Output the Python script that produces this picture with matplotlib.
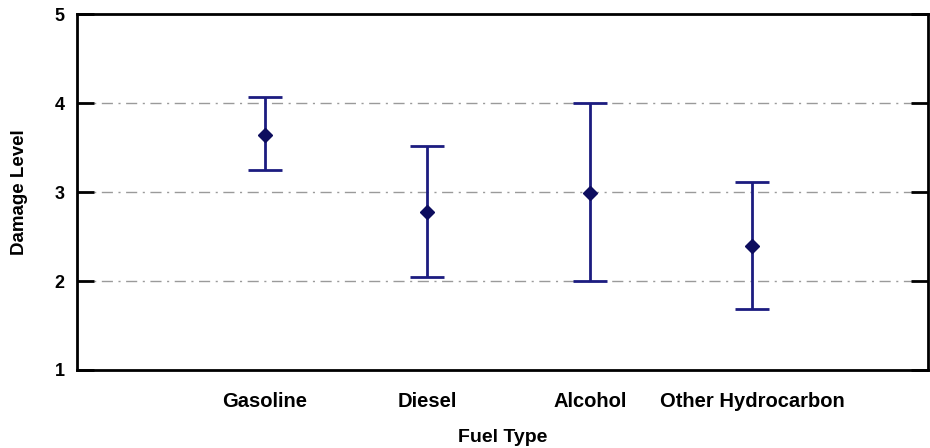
import matplotlib.pyplot as plt
import numpy as np

plt.rcParams['font.family'] = ['Liberation Sans', 'DejaVu Sans']

fuel_types = ['Gasoline', 'Diesel', 'Alcohol', 'Other Hydrocarbon']
means = [3.64, 2.77, 2.99, 2.39]
lower = [3.25, 2.04, 2.00, 1.69]
upper = [4.07, 3.52, 4.00, 3.11]
yticks = [1, 2, 3, 4, 5]

x = np.arange(1, len(fuel_types) + 1)
means = np.array(means)
err = [means - np.array(lower), np.array(upper) - means]

fig = plt.figure(figsize=(9.3, 4.48), dpi=100)
ax = fig.add_axes([77 / 930, 1 - 370 / 448, (928 - 77) / 930, (370 - 14) / 448])

for yv in [2, 3, 4]:
    ax.axhline(yv, color='#9a9a9a', lw=1, ls=(0, (8, 4, 1.5, 4)), zorder=1)

ax.errorbar(x, means, yerr=err, fmt='D', color='#1c1c80', ms=7,
            mfc='#0d0d5e', mec='#0d0d5e', ecolor='#1c1c80', elinewidth=2,
            capsize=12, capthick=2, zorder=3)

ax.set_xlim(-0.157, 5.083)
ax.set_ylim(1, 5)
ax.set_yticks(yticks)
ax.set_xticks(x)
ax.set_xticklabels(fuel_types, fontsize=14.5, fontweight='bold')
ax.tick_params(axis='x', length=0, pad=16)
ax.tick_params(axis='y', direction='in', length=12, width=2, right=True,
               labelsize=13, pad=9)
for lab in ax.get_yticklabels():
    lab.set_fontweight('bold')
for s in ax.spines.values():
    s.set_linewidth(2)

ax.set_xlabel('Fuel Type', fontsize=14, fontweight='bold', labelpad=13)
ax.set_ylabel('Damage Level', fontsize=13.5, fontweight='bold', labelpad=19)

fig.savefig('out.png', dpi=100)
